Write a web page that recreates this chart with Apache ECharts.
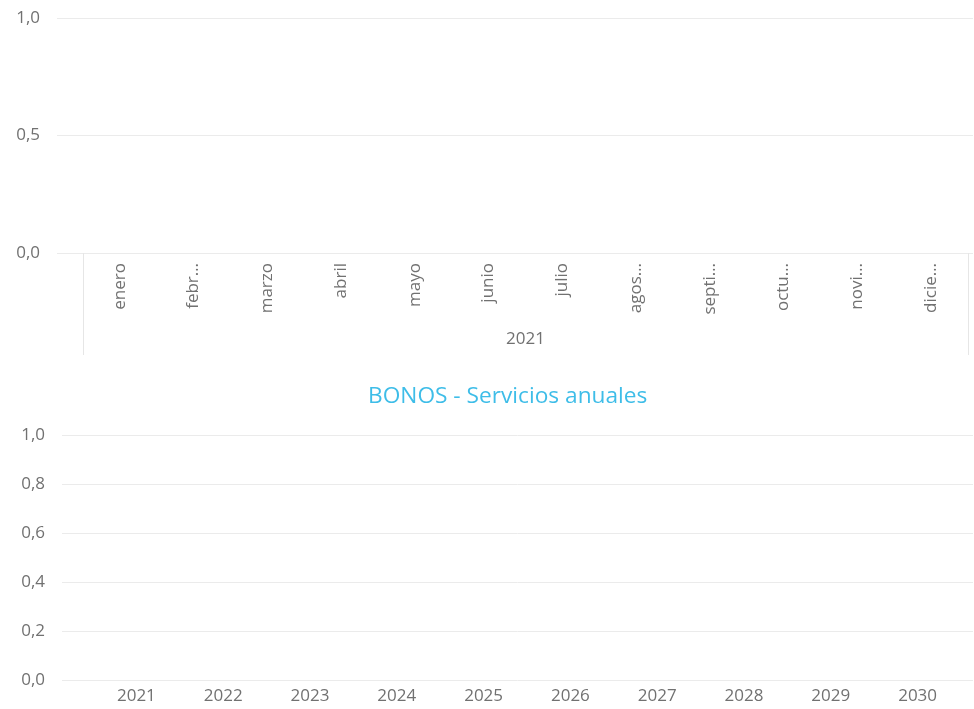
<!DOCTYPE html>
<html>
<head>
<meta charset="utf-8">
<script src="https://cdn.jsdelivr.net/npm/echarts@6/dist/echarts.min.js"></script>
<style>
  html, body { margin: 0; padding: 0; background: #fff; }
  #chart { width: 974px; height: 709px; }
</style>
</head>
<body>
<div id="chart"></div>
<script>
// datos
var meses = ['enero', 'febrero', 'marzo', 'abril', 'mayo', 'junio', 'julio', 'agosto', 'septiembre', 'octubre', 'noviembre', 'diciembre'];
var anioMeses = ['2021'];
var anios = ['2021', '2022', '2023', '2024', '2025', '2026', '2027', '2028', '2029', '2030'];
var valoresMensuales = [];   // sin datos
var serviciosAnuales = [];   // sin datos
var tituloAnual = 'BONOS - Servicios anuales';

var fuente = '"Segoe UI", "Open Sans", sans-serif';
var gris = '#717171';
var linea = '#ebebeb';

function coma(v) { return v.toFixed(1).replace('.', ','); }

// recorta la etiqueta con "…" si no cabe en el ancho dado
var ctx = document.createElement('canvas').getContext('2d');
ctx.font = '17px ' + fuente;
function recortar(texto) {
    var ancho = 52.5;
    if (ctx.measureText(texto).width <= ancho) return texto;
    var t = texto;
    while (t.length > 1 && ctx.measureText(t + '…').width > ancho) {
        t = t.slice(0, -1);
    }
    return t + '…';
}

var myChart = echarts.init(document.getElementById('chart'));
var option = {
    animation: false,
    textStyle: { fontFamily: fuente },
    title: {
        text: tituloAnual,
        left: 363,
        top: 380,
        textStyle: { color: '#3ebde8', fontSize: 22.7, fontWeight: 'normal', fontFamily: fuente }
    },
    grid: [
        { left: 57, right: 1, top: 18, height: 235 },   // lineas superiores
        { left: 83, right: 6, top: 18, height: 235 },   // meses
        { left: 62, right: 1, top: 435, height: 245 },  // lineas inferiores
        { left: 93, right: 13, top: 435, height: 245 }  // años
    ],
    xAxis: [
        { gridIndex: 0, type: 'category', data: meses, show: false },
        {
            gridIndex: 1, type: 'category', data: meses,
            axisLine: { show: false }, axisTick: { show: false },
            axisLabel: {
                rotate: 90, margin: 10, color: gris, fontSize: 17, interval: 0,
                formatter: recortar
            }
        },
        {
            gridIndex: 1, type: 'category', data: anioMeses, position: 'bottom',
            axisLine: { show: false },
            axisTick: { show: true, length: 102, lineStyle: { color: '#e6e6e6' } },
            axisLabel: { margin: 78, color: gris, fontSize: 17 }
        },
        { gridIndex: 2, type: 'category', data: anios, show: false },
        {
            gridIndex: 3, type: 'category', data: anios,
            axisLine: { show: false }, axisTick: { show: false },
            axisLabel: { margin: 8, color: gris, fontSize: 17, interval: 0 }
        }
    ],
    yAxis: [
        {
            gridIndex: 0, type: 'value', min: 0, max: 1, interval: 0.5,
            axisLabel: { color: gris, fontSize: 17, margin: 17, formatter: coma },
            splitLine: { lineStyle: { color: linea, width: 1 } }
        },
        { gridIndex: 1, type: 'value', min: 0, max: 1, show: false },
        {
            gridIndex: 2, type: 'value', min: 0, max: 1, interval: 0.2,
            axisLabel: { color: gris, fontSize: 17, margin: 17, formatter: coma },
            splitLine: { lineStyle: { color: linea, width: 1 } }
        },
        { gridIndex: 3, type: 'value', min: 0, max: 1, show: false }
    ],
    series: [
        { name: 'Mensual', type: 'bar', xAxisIndex: 1, yAxisIndex: 1, data: valoresMensuales },
        { name: 'Servicios', type: 'bar', xAxisIndex: 4, yAxisIndex: 3, data: serviciosAnuales }
    ]
};
myChart.setOption(option);
window.addEventListener("resize", function () {
    myChart.resize();
});
</script>
</body>
</html>
